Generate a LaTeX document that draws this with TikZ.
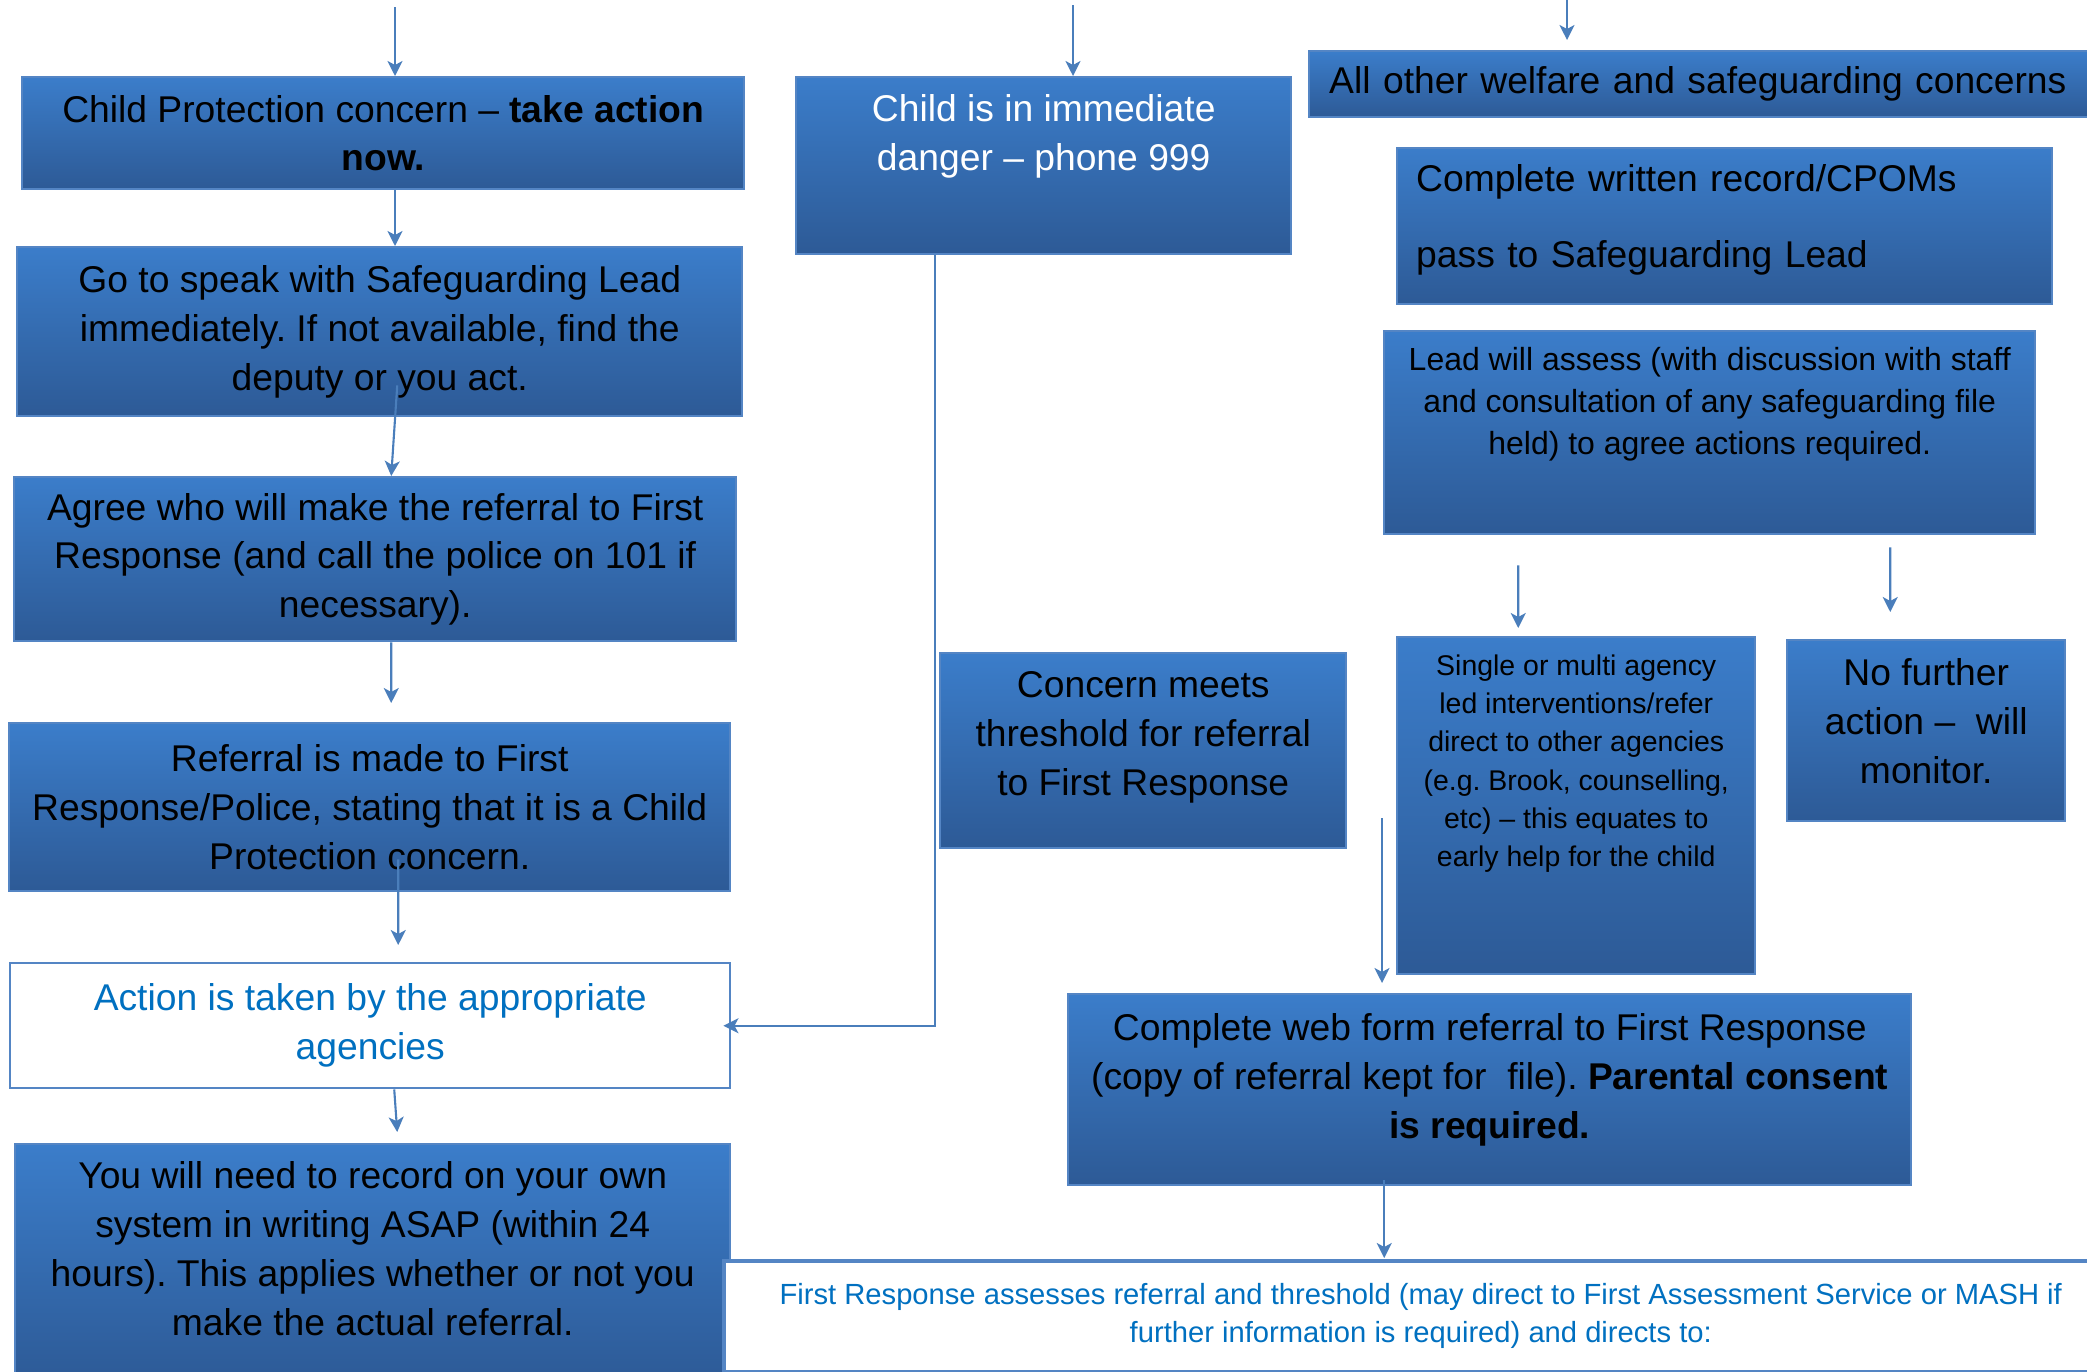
\documentclass[tikz,border=0pt]{standalone}
\usepackage{fontspec}
\setmainfont{Liberation Sans}
\usetikzlibrary{arrows.meta}
\frenchspacing

\definecolor{boxtop}{RGB}{59,125,202}
\definecolor{boxbot}{RGB}{45,90,150}
\definecolor{boxedge}{RGB}{84,133,196}
\definecolor{linkblue}{RGB}{74,126,187}
\definecolor{notetext}{RGB}{0,112,192}

\tikzset{
  box/.style={draw=boxedge, line width=0.7pt, top color=boxtop, bottom color=boxbot,
    anchor=north west, align=center, inner sep=0pt,
    font=\fontsize{10.6}{13.9}\selectfont},
  whitebox/.style={draw=boxedge, line width=0.7pt, fill=white, text=notetext,
    anchor=north west, align=center, inner sep=0pt,
    font=\fontsize{10.6}{13.9}\selectfont},
  wh/.style 2 args={minimum width=#1cm, minimum height=#2cm},
  conn/.style={draw=linkblue, line width=0.6pt,
    -{Stealth[length=0.15cm, width=0.15cm, inset=0.04cm]}},
}

\begin{document}
\begin{tikzpicture}
  \useasboundingbox (0,0) rectangle (20.87,-13.71);

  % left column
  \node[box, wh={7.22}{1.12}] (cp) at (0.21,-0.76)
    {Child Protection concern -- \textbf{take action}\\\textbf{now.}};
  \node[box, wh={7.25}{1.69}] (go) at (0.16,-2.46)
    {Go to speak with Safeguarding Lead\\immediately. If not available, find the\\deputy or you act.};
  \node[box, wh={7.22}{1.64}] (agree) at (0.13,-4.76)
    {Agree who will make the referral to First\\Response (and call the police on 101 if\\necessary).};
  \node[box, wh={7.21}{1.68}] (referral) at (0.08,-7.22)
    {Referral is made to First\\Response/Police, stating that it is a Child\\Protection concern.};
  \node[whitebox, wh={7.20}{1.25}] (action) at (0.09,-9.62)
    {Action is taken by the appropriate\\agencies};
  \node[box, wh={7.15}{2.40}, text depth=0.32cm] (record) at (0.14,-11.43)
    {You will need to record on your own\\system in writing ASAP (within 24\\hours). This applies whether or not you\\make the actual referral.};

  % middle
  \node[box, wh={4.95}{1.77}, text=white, text depth=0.66cm] (danger) at (7.95,-0.76)
    {Child is in immediate\\danger -- phone 999};
  \node[box, wh={4.06}{1.95}, text depth=0.34cm] (threshold) at (9.39,-6.52)
    {Concern meets\\threshold for referral\\to First Response};
  \node[box, wh={8.43}{1.91}, text depth=0.27cm] (webform) at (10.67,-9.93)
    {Complete web form referral to First Response\\(copy of referral kept for\ \ file). \textbf{Parental consent}\\\textbf{is required.}};
  \node[whitebox, wh={13.94}{1.11}, line width=1pt,
    font=\fontsize{8.3}{10.9}\selectfont] (firstresp) at (7.22,-12.59)
    {First Response assesses referral and threshold (may direct to First Assessment Service or MASH if\\further information is required) and directs to:};

  % right column
  \node[box, wh={7.87}{0.66}, align=left, text width=7.47cm, inner xsep=0.2cm] (welfare) at (13.08,-0.50)
    {All other welfare and safeguarding concerns};
  \node[box, wh={6.55}{1.56}, align=left, text width=6.17cm, inner xsep=0.19cm,
    text depth=0.96cm] (cpoms) at (13.96,-1.47)
    {Complete written record/CPOMs\\[0.27cm]pass to Safeguarding Lead};
  \node[box, wh={6.51}{2.03}, font=\fontsize{9.1}{11.9}\selectfont,
    text depth=0.63cm] (lead) at (13.83,-3.30)
    {Lead will assess (with discussion with staff\\and consultation of any safeguarding file\\held) to agree actions required.};
  \node[box, wh={3.58}{3.37}, font=\fontsize{8.1}{10.9}\selectfont,
    text depth=0.9cm] (earlyhelp) at (13.96,-6.36)
    {Single or multi agency\\led interventions/refer\\direct to other agencies\\(e.g. Brook, counselling,\\etc) -- this equates to\\early help for the child};
  \node[box, wh={2.78}{1.81}, text depth=0.2cm] (monitor) at (17.86,-6.39)
    {No further\\action --\ \ will\\monitor.};

  % connectors
  \coordinate (incp) at (3.95,-0.07);
  \coordinate (indanger) at (10.73,-0.05);
  \coordinate (inwelfare) at (15.67,0);
  \coordinate (inweb) at (13.82,-8.18);

  \draw[conn] (incp) -- (incp |- cp.north);
  \draw[conn] (cp.south -| incp) -- (go.north -| incp);
  \draw[conn] ([shift={(0.175,0.32)}]go.south) -- ([xshift=0.16cm]agree.north);
  \draw[conn] ([xshift=0.16cm]agree.south) -- ([shift={(0.215,0.19)}]referral.north);
  \draw[conn] ([shift={(0.285,0.33)}]referral.south) -- ([shift={(0.28,0.17)}]action.north);
  \draw[conn] ([xshift=0.24cm]action.south) -- ([shift={(0.245,0.11)}]record.north);

  \draw[conn] (indanger) -- (indanger |- danger.north);
  \draw[conn] ([xshift=-1.085cm]danger.south) |- ([xshift=-0.08cm]action.east);

  \draw[conn] (inwelfare) -- ([yshift=0.1cm]inwelfare |- welfare.north);
  \draw[conn] ([shift={(-1.915,-0.30)}]lead.south) -- ([shift={(-0.58,0.08)}]earlyhelp.north);
  \draw[conn] ([shift={(1.805,-0.12)}]lead.south) -- ([shift={(-0.36,0.27)}]monitor.north);
  \draw[conn] (inweb) -- ([yshift=0.1cm]inweb |- webform.north);
  \draw[conn] ([shift={(-1.055,0.06)}]webform.south) -- ([shift={(-1.055,0.01)}]webform.south |- firstresp.north);
\end{tikzpicture}
\end{document}
